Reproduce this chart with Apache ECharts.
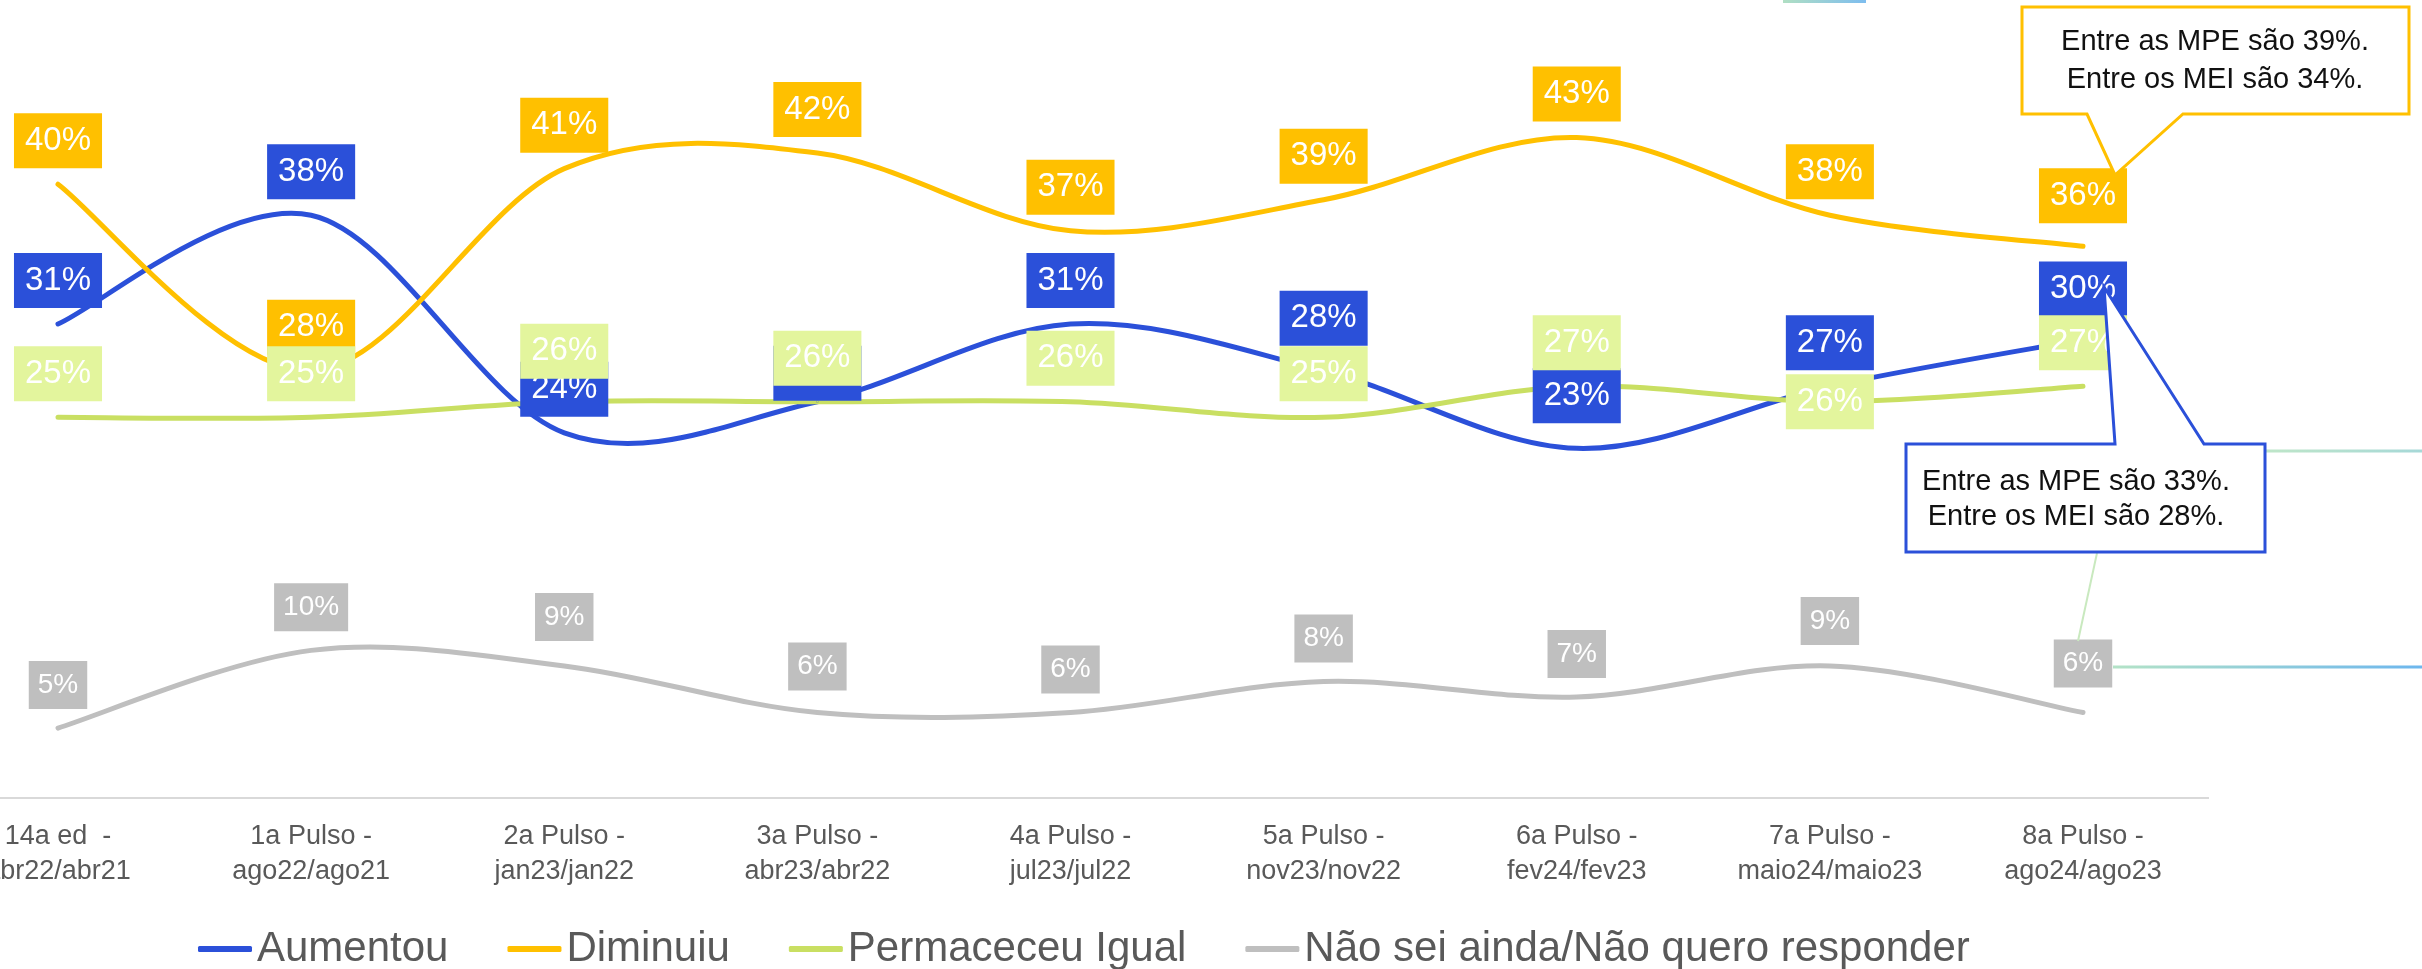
<!DOCTYPE html>
<html>
<head>
<meta charset="utf-8">
<title>Pulso</title>
<script src="https://cdn.jsdelivr.net/npm/echarts@6.0.0/dist/echarts.min.js"></script>
<style>
  html, body { margin: 0; padding: 0; background: #fff; }
  #chart { width: 2422px; height: 969px; }
</style>
</head>
<body>
<div id="chart"></div>
<script>
// dados
const categories = [
  '14a ed  -\nabr22/abr21',
  '1a Pulso -\nago22/ago21',
  '2a Pulso -\njan23/jan22',
  '3a Pulso -\nabr23/abr22',
  '4a Pulso -\njul23/jul22',
  '5a Pulso -\nnov23/nov22',
  '6a Pulso -\nfev24/fev23',
  '7a Pulso -\nmaio24/maio23',
  '8a Pulso -\nago24/ago23'
];
const aumentou   = [31, 38, 24, 26, 31, 28, 23, 27, 30];
const diminuiu   = [40, 28, 41, 42, 37, 39, 43, 38, 36];
const permaneceu = [25, 25, 26, 26, 26, 25, 27, 26, 27];
const naoSei     = [5, 10, 9, 6, 6, 8, 7, 9, 6];

const calloutDiminuiu = 'Entre as MPE são 39%.\nEntre os MEI são 34%.';
const calloutAumentou = 'Entre as MPE são 33%.\nEntre os MEI são 28%.';

const FONT = '"Liberation Sans", Arial, sans-serif';

// ajustes de posicao de alguns rotulos (como no original)
const labelTweaks = {
  'Aumentou': { 3: { offset: [0, 15] }, 5: { distance: 24 }, 6: { distance: 24 }, 8: { distance: 22 } },
  'Diminuiu': { 8: { distance: 22 } },
  'Permaceceu Igual': { 2: { distance: 22 }, 7: { position: 'inside' } },
  'Não sei ainda/Não quero responder': { 2: { distance: 24 }, 3: { distance: 21 }, 7: { distance: 20 }, 8: { distance: 24 } }
};

// serie de linha so para rotulos e legenda (a curva vem da serie custom)
function labelSeries(name, values, lineColor, boxColor, small) {
  const tw = labelTweaks[name] || {};
  return {
    name: name,
    type: 'line',
    z: 3,
    symbol: 'circle',
    symbolSize: 2,
    showSymbol: true,
    lineStyle: { color: 'rgba(0,0,0,0)', width: 5 },
    itemStyle: { color: lineColor },
    label: {
      show: true,
      position: 'top',
      distance: small ? 18 : 15,
      formatter: '{c}%',
      color: '#ffffff',
      fontFamily: FONT,
      fontSize: small ? 28 : 33,
      lineHeight: small ? 28 : 33,
      backgroundColor: boxColor,
      padding: small ? [10, 9] : [11, 11],
      textBorderWidth: 0
    },
    emphasis: { disabled: true },
    data: values.map((v, i) => tw[i] ? { value: v, label: tw[i] } : v)
  };
}

// curva suavizada tipo Excel (catmull-rom) passando pelos pontos do eixo
function curveSeries(name, values, color) {
  return {
    name: name + ' curva',
    type: 'custom',
    silent: true,
    z: 2,
    data: values.map((v, i) => [i, v]),
    encode: { x: 0, y: 1 },
    renderItem: function (params, api) {
      if (params.dataIndex !== 0) return null;
      const pts = values.map((v, i) => api.coord([i, v]));
      const n = pts.length;
      let d = 'M' + pts[0][0] + ' ' + pts[0][1];
      for (let i = 0; i < n - 1; i++) {
        const p0 = pts[Math.max(i - 1, 0)];
        const p1 = pts[i];
        const p2 = pts[i + 1];
        const p3 = pts[Math.min(i + 2, n - 1)];
        const c1x = p1[0] + (p2[0] - p0[0]) / 6, c1y = p1[1] + (p2[1] - p0[1]) / 6;
        const c2x = p2[0] - (p3[0] - p1[0]) / 6, c2y = p2[1] - (p3[1] - p1[1]) / 6;
        d += ' C' + c1x + ' ' + c1y + ' ' + c2x + ' ' + c2y + ' ' + p2[0] + ' ' + p2[1];
      }
      return {
        type: 'path',
        shape: { pathData: d },
        style: { stroke: color, lineWidth: 5, fill: 'none', lineCap: 'round', lineJoin: 'round' }
      };
    }
  };
}

const chart = echarts.init(document.getElementById('chart'), null, { renderer: 'canvas' });

const grad = (a, b) => new echarts.graphic.LinearGradient(0, 0, 1, 0, [
  { offset: 0, color: a }, { offset: 1, color: b }
]);

chart.setOption({
  animation: false,
  backgroundColor: '#ffffff',
  grid: { left: 58, right: 339, top: 21, bottom: 171, outerBoundsMode: 'none' },
  legend: {
    left: 198,
    top: 928,
    padding: 0,
    icon: 'roundRect',
    itemWidth: 54,
    itemHeight: 6,
    itemGap: 59,
    textStyle: { fontFamily: FONT, fontSize: 42, color: '#595959' },
    data: ['Aumentou', 'Diminuiu', 'Permaceceu Igual', 'Não sei ainda/Não quero responder']
  },
  xAxis: {
    type: 'category',
    data: categories,
    boundaryGap: false,
    axisLine: { show: false },
    axisTick: { show: false },
    axisLabel: {
      interval: 0,
      margin: 21,
      color: '#595959',
      fontFamily: FONT,
      fontSize: 27,
      lineHeight: 35
    }
  },
  yAxis: {
    type: 'value',
    min: 0.5,
    max: 50.5,
    show: false,
    splitLine: { show: false }
  },
  series: [
    curveSeries('Aumentou', aumentou, '#2b50d9'),
    curveSeries('Diminuiu', diminuiu, '#ffc000'),
    curveSeries('Permaceceu Igual', permaneceu, '#c9df62'),
    curveSeries('Não sei ainda/Não quero responder', naoSei, '#bfbfbf'),
    labelSeries('Aumentou', aumentou, '#2b50d9', '#2b50d9', false),
    labelSeries('Diminuiu', diminuiu, '#ffc000', '#ffc000', false),
    labelSeries('Permaceceu Igual', permaneceu, '#c9df62', '#e3f59d', false),
    labelSeries('Não sei ainda/Não quero responder', naoSei, '#bfbfbf', '#bfbfbf', true)
  ],
  graphic: [
    // linha do eixo x (se estende alem do primeiro/ultimo ponto)
    { type: 'line', z: 1, shape: { x1: 0, y1: 798, x2: 2209, y2: 798 },
      style: { stroke: '#d9d9d9', lineWidth: 2 } },
    // restos de formas cortadas
    { type: 'line', z: 100, shape: { x1: 1783, y1: 1.5, x2: 1866, y2: 1.5 },
      style: { stroke: grad('#b2e0c2', '#7cbcf0'), lineWidth: 3 } },
    { type: 'line', z: 100, shape: { x1: 2265, y1: 451, x2: 2422, y2: 451 },
      style: { stroke: grad('#bfe6c8', '#a6d8d8'), lineWidth: 3 } },
    { type: 'line', z: 100, shape: { x1: 2113, y1: 667, x2: 2422, y2: 667 },
      style: { stroke: grad('#b4e3c6', '#6cb6ee'), lineWidth: 3 } },
    { type: 'line', z: 100, shape: { x1: 2097, y1: 553, x2: 2078, y2: 641 },
      style: { stroke: '#c9e9bf', lineWidth: 2 } },
    // balao laranja
    { type: 'polygon', z: 101,
      shape: { points: [[2022, 7], [2409, 7], [2409, 114], [2183, 114], [2115, 175], [2087, 114], [2022, 114]] },
      style: { fill: '#ffffff', stroke: '#ffc000', lineWidth: 3, lineJoin: 'miter' } },
    { type: 'text', z: 102, x: 2215, y: 61,
      style: { text: calloutDiminuiu, align: 'center', verticalAlign: 'middle', fill: '#111111',
               font: '29px "Liberation Sans", Arial, sans-serif', lineHeight: 38 } },
    // balao azul
    { type: 'polygon', z: 101,
      shape: { points: [[1906, 444], [2115, 444], [2104, 287], [2204, 444], [2265, 444], [2265, 552], [1906, 552]] },
      style: { fill: '#ffffff', stroke: '#2b50d9', lineWidth: 3, lineJoin: 'miter' } },
    { type: 'text', z: 102, x: 2076, y: 499,
      style: { text: calloutAumentou, align: 'center', verticalAlign: 'middle', fill: '#111111',
               font: '29px "Liberation Sans", Arial, sans-serif', lineHeight: 35 } }
  ]
});
</script>
</body>
</html>
